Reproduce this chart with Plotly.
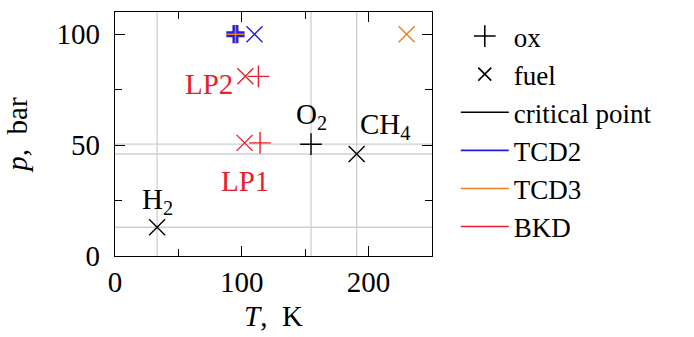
import plotly.graph_objects as go

# Critical points
crit_names = ["H<sub>2</sub>", "O<sub>2</sub>", "CH<sub>4</sub>"]
crit_T = [33.2, 154.6, 190.6]
crit_p = [12.96, 50.4, 45.99]
crit_kind = ["fuel", "ox", "fuel"]

# Test cases
tcd2_ox_T, tcd2_ox_p = [95], [100]
tcd2_fuel_T, tcd2_fuel_p = [110], [100]
tcd3_ox_T, tcd3_ox_p = [95], [100]
tcd3_fuel_T, tcd3_fuel_p = [230], [100]
bkd_names = ["LP1", "LP2"]
bkd_ox_T, bkd_ox_p = [114.4, 113.1], [51, 81]
bkd_fuel_T, bkd_fuel_p = [102.2, 102.8], [51, 81]

BLUE = "#1e1ee8"
ORANGE = "#e8801e"
RED = "#e8202a"
GRID = "#cfcfcf"
FONT = "Liberation Serif"
FS = 29
LFS = 27

OX_SIZE = 15.5
FUEL_SIZE = 16
LW = 1.4

fig = go.Figure()

# critical-point reference lines
for T, p in zip(crit_T, crit_p):
    fig.add_vline(x=T, line=dict(color=GRID, width=1.3), layer="below")
    fig.add_hline(y=p, line=dict(color=GRID, width=1.3), layer="below")


def pts(x, y, sym, color, size, lw=LW):
    fig.add_trace(go.Scatter(
        x=x, y=y, mode="markers", showlegend=False, hoverinfo="skip",
        marker=dict(symbol=sym, size=size, color=color,
                    line=dict(color=color, width=lw))))


# critical points
for T, p, k in zip(crit_T, crit_p, crit_kind):
    if k == "ox":
        pts([T], [p], "cross-thin", "black", OX_SIZE)
    else:
        pts([T], [p], "x-thin", "black", FUEL_SIZE)

# TCD2
pts(tcd2_ox_T, tcd2_ox_p, "cross-thin", BLUE, 13, 6)
pts(tcd2_fuel_T, tcd2_fuel_p, "x-thin", BLUE, FUEL_SIZE)
# TCD3
pts(tcd3_ox_T, tcd3_ox_p, "cross-thin", ORANGE, 13, 1.4)
pts(tcd3_fuel_T, tcd3_fuel_p, "x-thin", ORANGE, FUEL_SIZE)
# BKD
pts(bkd_ox_T, bkd_ox_p, "cross-thin", RED, OX_SIZE)
pts(bkd_fuel_T, bkd_fuel_p, "x-thin", RED, FUEL_SIZE)

# legend entries
leg = [
    ("ox", "markers", "cross-thin", "black"),
    ("fuel", "markers", "x-thin", "black"),
    ("critical point", "lines", None, "black"),
    ("TCD2", "lines", None, BLUE),
    ("TCD3", "lines", None, ORANGE),
    ("BKD", "lines", None, RED),
]
for name, mode, sym, col in leg:
    if mode == "markers":
        fig.add_trace(go.Scatter(
            x=[None], y=[None], mode="markers", name=name,
            marker=dict(symbol=sym, size=OX_SIZE if sym == "cross-thin" else 13,
                        color=col, line=dict(color=col, width=1.6))))
    else:
        fig.add_trace(go.Scatter(
            x=[None], y=[None], mode="lines", name=name,
            line=dict(color=col, width=1.6)))

# labels for critical points
fig.add_annotation(x=crit_T[0], y=crit_p[0], text=crit_names[0], showarrow=False,
                   xanchor="center", yanchor="bottom", yshift=6,
                   font=dict(family=FONT, size=FS, color="black"))
fig.add_annotation(x=crit_T[1], y=crit_p[1], text=crit_names[1], showarrow=False,
                   xanchor="center", yanchor="bottom", yshift=8,
                   font=dict(family=FONT, size=FS, color="black"))
fig.add_annotation(x=crit_T[2], y=crit_p[2], text=crit_names[2], showarrow=False,
                   xanchor="left", yanchor="bottom", xshift=1, yshift=8,
                   font=dict(family=FONT, size=FS, color="black"))
# BKD load point labels
fig.add_annotation(x=bkd_fuel_T[1], y=bkd_fuel_p[1], text=bkd_names[1], showarrow=False,
                   xanchor="right", yanchor="middle", xshift=-10, yshift=-8,
                   font=dict(family=FONT, size=FS, color=RED))
fig.add_annotation(x=bkd_fuel_T[0], y=bkd_fuel_p[0], text=bkd_names[0], showarrow=False,
                   xanchor="center", yanchor="top", xshift=0, yshift=-20,
                   font=dict(family=FONT, size=FS, color=RED))

axis_common = dict(
    showline=True, linecolor="black", linewidth=1.2, mirror="allticks",
    ticks="inside", ticklen=10, tickwidth=1.2, tickcolor="black",
    showgrid=False, zeroline=False,
    tickfont=dict(family=FONT, size=FS, color="black"),
)
fig.update_xaxes(range=[0, 250], tickvals=[0, 100, 200],
                 minor=dict(tickvals=[50, 150, 250], ticks="inside", ticklen=7,
                            tickwidth=1.2, tickcolor="black", showgrid=False),
                 title=dict(text="<i>T</i>,  K", font=dict(family=FONT, size=FS, color="black"),
                            standoff=8),
                 **axis_common)
fig.update_yaxes(range=[0, 110], tickvals=[0, 50, 100], ticklabelstandoff=8,
                 minor=dict(tickvals=[25, 75], ticks="inside", ticklen=7,
                            tickwidth=1.2, tickcolor="black", showgrid=False),
                 title=dict(text="<i>p</i>,  bar", font=dict(family=FONT, size=FS, color="black"),
                            standoff=20),
                 **axis_common)

fig.update_layout(
    width=694, height=337,
    margin=dict(l=115, r=262, t=11, b=77, pad=0),
    plot_bgcolor="white", paper_bgcolor="white",
    font=dict(family=FONT, size=FS, color="black"),
    legend=dict(x=1.075, xanchor="left", y=1.0, yanchor="top",
                font=dict(family=FONT, size=LFS, color="black"),
                bgcolor="rgba(0,0,0,0)", borderwidth=0, itemwidth=48,
                tracegroupgap=0),
)

fig.write_html("out.html")
